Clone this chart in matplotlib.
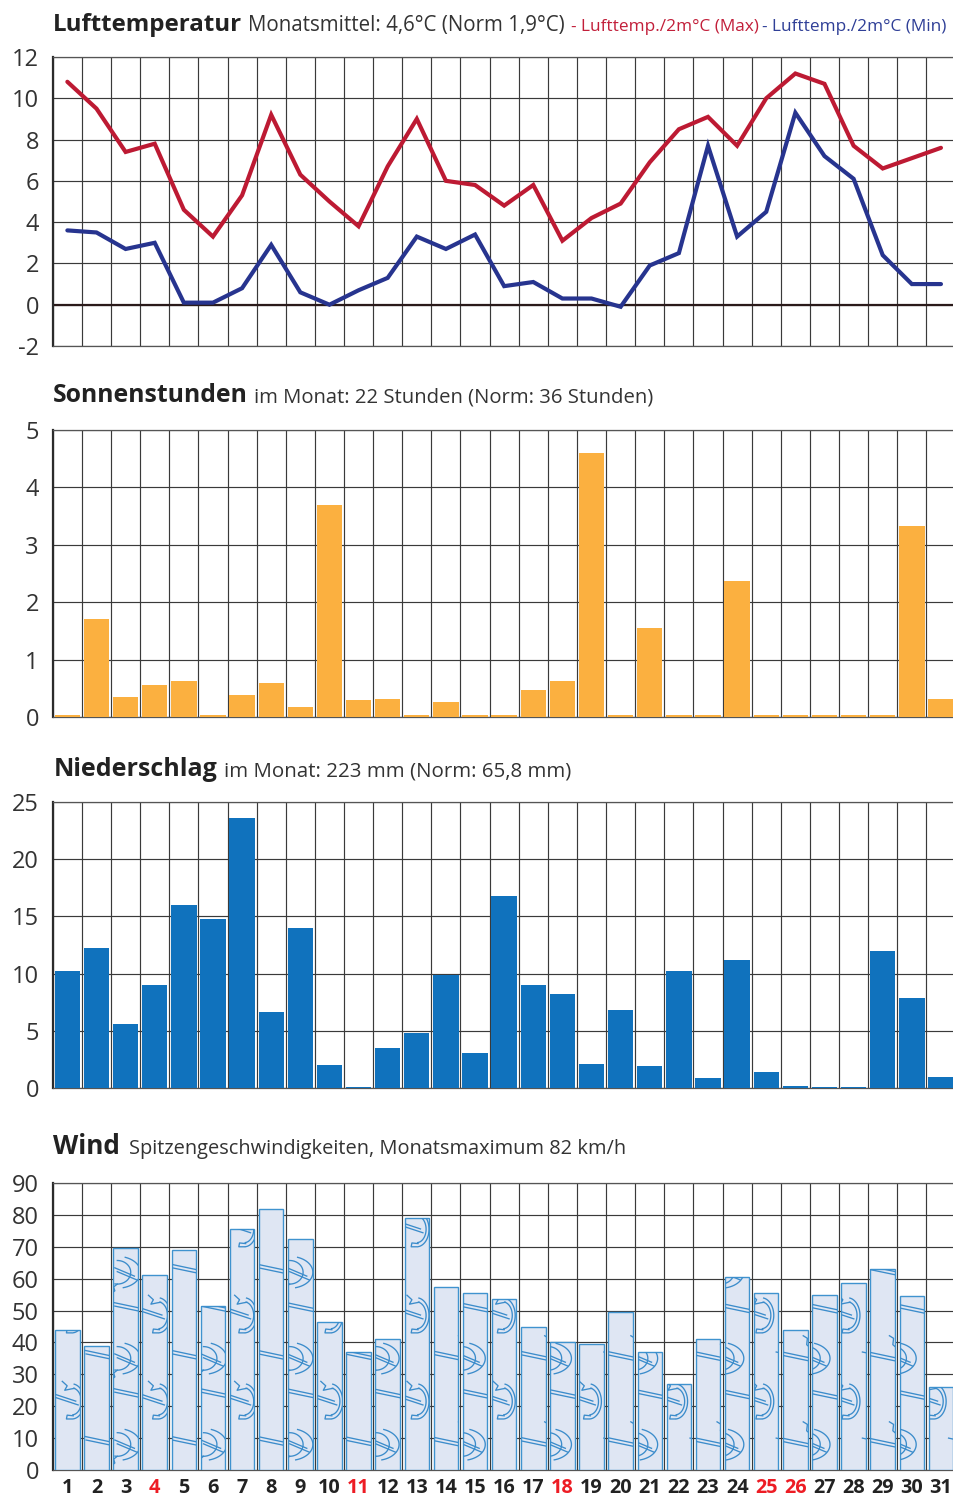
#grafico meteo del mese: temperatura, sole, pioggia e vento
import numpy as np
import matplotlib
matplotlib.use('Agg')
import matplotlib.pyplot as plt
from matplotlib.lines import Line2D

plt.rcParams['font.family'] = ['Open Sans', 'DejaVu Sans']
plt.rcParams['axes.unicode_minus'] = False  #il "-2" usa il trattino semplice

giorni = list(range(1, 32))
giorni_rossi = [4, 11, 18, 25, 26]

temp_max = [10.8, 9.5, 7.4, 7.8, 4.6, 3.3, 5.3, 9.2, 6.3, 5.0, 3.8, 6.7, 9.0, 6.0, 5.8, 4.8,
            5.8, 3.1, 4.2, 4.9, 6.9, 8.5, 9.1, 7.7, 10.0, 11.2, 10.7, 7.7, 6.6, 7.1, 7.6]
temp_min = [3.6, 3.5, 2.7, 3.0, 0.1, 0.1, 0.8, 2.9, 0.6, 0.0, 0.7, 1.3, 3.3, 2.7, 3.4, 0.9,
            1.1, 0.3, 0.3, -0.1, 1.9, 2.5, 7.7, 3.3, 4.5, 9.3, 7.2, 6.1, 2.4, 1.0, 1.0]
sole = [0.03, 1.7, 0.35, 0.55, 0.63, 0.03, 0.38, 0.6, 0.18, 3.7, 0.3, 0.32, 0.03, 0.27, 0.03, 0.03,
        0.47, 0.62, 4.6, 0.03, 1.55, 0.03, 0.03, 2.37, 0.03, 0.03, 0.03, 0.03, 0.03, 3.32, 0.32]
pioggia = [10.2, 12.2, 5.6, 9.0, 16.0, 14.8, 23.6, 6.6, 14.0, 2.0, 0.05, 3.5, 4.8, 9.9, 3.1, 16.8,
           9.0, 8.2, 2.1, 6.8, 1.9, 10.2, 0.9, 11.2, 1.4, 0.2, 0.1, 0.1, 12.0, 7.9, 1.0]
vento = [44, 39, 69.5, 61, 69, 51.5, 75.5, 82, 72.5, 46.5, 37, 41, 79, 57.5, 55.5, 53.5,
         45, 40, 39.5, 49.5, 37, 27, 41, 60.5, 55.5, 44, 55, 58.5, 63, 54.5, 26]

W, H = 954, 1496
X0, X1 = 52.8, 954
PASSO = 29.12  #pixel per giorno


#crea un asse a partire dai pixel della figura
def crea_asse(fig, y_top, y_bottom, ymin, ymax, yticks):
    ax = fig.add_axes([X0 / W, 1 - y_bottom / H, (X1 - X0) / W, (y_bottom - y_top) / H])
    ax.set_xlim(0.5, 0.5 + (X1 - X0) / PASSO)
    ax.set_ylim(ymin, ymax)
    ax.set_xticks(np.arange(0.5, 31.4, 1))
    ax.set_yticks(yticks)
    ax.grid(True, color='#3a3a3a', linewidth=0.85, zorder=1)
    ax.set_axisbelow(True)
    ax.tick_params(length=0, labelbottom=False, labelsize=17, labelcolor='#333333', pad=10)
    for nome in ['top', 'right', 'bottom']:
        ax.spines[nome].set_color('#555555')
        ax.spines[nome].set_linewidth(0.9)
    ax.spines['right'].set_visible(False)
    ax.spines['left'].set_color('#2b2b2b')
    ax.spines['left'].set_linewidth(1.6)
    return ax


#titolo in grassetto seguito dal testo normale
def titolo(fig, y, grassetto, normale, x_normale, size_g, size_n):
    fig.text((X0 + 0.5) / W, 1 - y / H, grassetto, fontsize=size_g, fontweight='bold', color='#222222', va='baseline')
    fig.text(x_normale / W, 1 - y / H, normale, fontsize=size_n, color='#333333', va='baseline')


#disegna il motivo del vento dentro una barra, tagliato sul rettangolo
def motivo_vento(ax, barra, giorno):
    col = '#3b8ccb'
    x = barra.get_x()
    larg = barra.get_width()
    resto = (giorno - 1) % 3
    #il motivo scivola piano verso sinistra andando avanti col mese
    dx = -0.016 * (giorno - 13)
    elementi = []

    def segmento(xs, ys):
        elementi.append(Line2D([x + larg * (v + dx) for v in xs], ys, color=col, lw=0.95))

    #arco di ellisse fatto a segmenti, cosi il taglio sulla barra funziona bene
    def arco(cx, y, raggio_x, raggio_y, t1, t2):
        t = np.radians(np.linspace(t1, t2, 30))
        segmento(cx + raggio_x * np.cos(t), y + raggio_y * np.sin(t))

    if resto == 0:
        #colonne con l'onda
        for y in [22, 49, 76]:
            segmento([-0.3, 0.65], [y + 2.0, y - 0.4])
            segmento([-0.2, 0.75], [y + 0.8, y - 1.6])
            segmento([0.1, 0.3, 0.2, 0.45, 0.6], [y + 5.8, y + 4.4, y + 3.0, y + 3.4, y + 3.6])
            arco(0.5, y - 0.5, 0.38, 4.2, -85, 80)
            arco(0.5, y - 0.5, 0.5, 5.5, -85, 80)
            segmento([0.55, 0.3, 0.27, 0.5], [y - 5.0, y - 4.8, y - 6.0, y - 6.0])
        for y in [10, 37, 64]:
            segmento([1.1, 1.4], [y, y - 0.5])
    elif resto == 1:
        #colonne con le righe doppie
        for y in [10, 37, 64]:
            segmento([-0.2, 1.4], [y + 0.6, y - 2.0])
            segmento([-0.1, 1.4], [y - 0.6, y - 3.0])
        for y in [13.5, 40.5, 67.5]:
            segmento([1.03, 1.2, 1.17, 1.26], [y + 1.6, y + 0.8, y - 1.2, y - 1.8])
    else:
        #colonne con i cerchi
        for y in [25, 52, 79]:
            segmento([-0.2, 1.4], [y + 0.6, y - 2.0])
            segmento([-0.1, 1.4], [y - 0.6, y - 3.0])
        for y in [8, 35, 62]:
            arco(0.0, y, 0.55, 3.7, -100, 90)
            arco(0.0, y, 0.95, 5.0, -75, 70)
            segmento([-0.1, 0.7], [y + 1.4, y - 1.2])
            segmento([0.0, 0.8], [y + 0.2, y - 2.4])
            segmento([0.0, -0.15, -0.1, -0.2], [y - 3.7, y - 4.6, y - 5.8, y - 6.4])
    for el in elementi:
        ax.add_artist(el)
        el.set_clip_path(barra)
        el.set_zorder(4)


fig = plt.figure(figsize=(W / 100, H / 100), dpi=100)

#temperatura
ax1 = crea_asse(fig, 57, 346, -2, 12, list(range(-2, 13, 2)))
ax1.plot(giorni, temp_max, color='#bd1a33', lw=3.0, solid_joinstyle='miter', solid_capstyle='round', zorder=3)
ax1.plot(giorni, temp_min, color='#27348f', lw=3.0, solid_joinstyle='miter', solid_capstyle='round', zorder=3)
ax1.axhline(0, color='#2a1a1a', lw=1.6, zorder=2)
titolo(fig, 31, 'Lufttemperatur', 'Monatsmittel: 4,6°C (Norm 1,9°C)', 248, 17.4, 14.8)
fig.text(571 / W, 1 - 31 / H, '- Lufttemp./2m°C (Max)', fontsize=12.4, color='#c21f3a')
fig.text(762 / W, 1 - 31 / H, '- Lufttemp./2m°C (Min)', fontsize=12.45, color='#2f3f97')

#sole
ax2 = crea_asse(fig, 430, 717, 0, 5, list(range(0, 6)))
ax2.bar(giorni, sole, width=0.87, color='#fbb040', zorder=3)
titolo(fig, 402, 'Sonnenstunden', 'im Monat: 22 Stunden (Norm: 36 Stunden)', 254, 17.8, 14.55)

#pioggia
ax3 = crea_asse(fig, 802, 1088, 0, 25, list(range(0, 26, 5)))
ax3.bar(giorni, pioggia, width=0.87, color='#1072bd', zorder=3)
titolo(fig, 776, 'Niederschlag', 'im Monat: 223 mm (Norm: 65,8 mm)', 224, 18, 14.75)

#vento
ax4 = crea_asse(fig, 1183, 1470, 0, 90, list(range(0, 91, 10)))
barre = ax4.bar(giorni, vento, width=0.84, facecolor='#dfe6f3', edgecolor='#3f93cf', linewidth=1.0, zorder=3)
for g, b in zip(giorni, barre):
    motivo_vento(ax4, b, g)
titolo(fig, 1154, 'Wind', 'Spitzengeschwindigkeiten, Monatsmaximum 82 km/h', 129, 18.8, 14.4)

#etichette dei giorni sotto il vento
for g in giorni:
    colore = '#ed1c24' if g in giorni_rossi else '#222222'
    ax4.annotate(str(g), (g, 0), xytext=(0, -16.5), textcoords='offset points', ha='center', va='baseline',
                 fontsize=14.3, fontweight='bold', color=colore, annotation_clip=False)

fig.savefig('out.png', dpi=100)
